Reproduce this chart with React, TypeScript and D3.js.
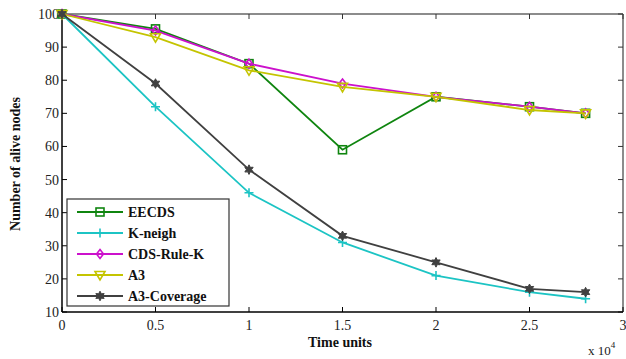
import React from "react";
import * as d3 from "d3";

const times = [0, 5000, 10000, 15000, 20000, 25000, 28000];
const eecds = [100, 95.5, 85, 59, 75, 72, 70];
const kneigh = [100, 72, 46, 31, 21, 16, 14];
const cdsRuleK = [100, 95, 85, 79, 75, 72, 70];
const a3 = [100, 93, 83, 78, 75, 71, 70];
const a3Coverage = [100, 79, 53, 33, 25, 17, 16];
const xTicks = [0, 5000, 10000, 15000, 20000, 25000, 30000];
const xTickLabels = ["0", "0.5", "1", "1.5", "2", "2.5", "3"];
const yTicks = [10, 20, 30, 40, 50, 60, 70, 80, 90, 100];

const seriesNames = ["EECDS", "K-neigh", "CDS-Rule-K", "A3", "A3-Coverage"];
const seriesValues = [eecds, kneigh, cdsRuleK, a3, a3Coverage];
const seriesColors = ["#0f850f", "#1cc4c4", "#cc11cc", "#c4c400", "#404040"];
const seriesMarkers = ["square", "plus", "diamond", "tri", "star"];

const W = 626, H = 359;
const L = 62, R = 623, T = 14, B = 312;

const starPath = (cx: number, cy: number) => {
  const pts = d3.range(12).map((k) => {
    const r = k % 2 === 0 ? 4.8 : 2.6;
    const a = (k * Math.PI) / 6 - Math.PI / 2;
    return [cx + r * Math.cos(a), cy + r * Math.sin(a)];
  });
  return "M" + pts.map((p) => p.join(",")).join("L") + "Z";
};

function Marker({ type, x, y, color }: { type: string; x: number; y: number; color: string }) {
  const sw = 1.6;
  if (type === "square") return <rect x={x - 4} y={y - 4} width={8} height={8} fill="none" stroke={color} strokeWidth={sw} />;
  if (type === "plus") return <path d={`M${x - 4.5},${y}H${x + 4.5}M${x},${y - 4.5}V${y + 4.5}`} stroke={color} strokeWidth={sw} />;
  if (type === "diamond") return <path d={`M${x},${y - 4.5}L${x + 3.5},${y}L${x},${y + 4.5}L${x - 3.5},${y}Z`} fill="none" stroke={color} strokeWidth={sw} />;
  if (type === "tri") return <path d={`M${x - 5},${y - 3.5}L${x + 5},${y - 3.5}L${x},${y + 5}Z`} fill="none" stroke={color} strokeWidth={sw} />;
  return <path d={starPath(x, y)} fill={color} stroke={color} strokeWidth={1} />;
}

export default function App() {
  const x = d3.scaleLinear().domain([0, 30000]).range([L, R]);
  const y = d3.scaleLinear().domain([10, 100]).range([B, T]);
  const line = d3.line<number>().x((_, i) => x(times[i])).y((d) => y(d));
  const font = "Liberation Serif, Times New Roman, serif";
  const legX = 67, legY = 199, legW = 162, legH = 107;
  return (
    <svg width={W} height={H} style={{ position: "absolute", left: 0, top: 0, background: "#fff", fontFamily: font }}>
      <rect x={0} y={0} width={W} height={H} fill="#fff" />
      <line x1={L} y1={T} x2={R} y2={T} stroke="#666" strokeWidth={1.5} />
      <line x1={R} y1={T} x2={R} y2={B} stroke="#666" strokeWidth={1.5} />
      {xTicks.map((t, i) => (
        <g key={"xt" + i}>
          <line x1={x(t)} x2={x(t)} y1={B} y2={B - 5} stroke="#000" />
          <line x1={x(t)} x2={x(t)} y1={T} y2={T + 5} stroke="#333" />
          <text x={x(t)} y={B + 18} textAnchor="middle" fontSize={14} fill="#222" style={{ fontFamily: font }}>{xTickLabels[i]}</text>
        </g>
      ))}
      {yTicks.map((t, i) => (
        <g key={"yt" + i}>
          <line x1={L} x2={L + 5} y1={y(t)} y2={y(t)} stroke="#000" />
          <line x1={R} x2={R - 5} y1={y(t)} y2={y(t)} stroke="#333" />
          <text x={L - 3} y={y(t) + 5} textAnchor="end" fontSize={14} fill="#222" style={{ fontFamily: font }}>{t}</text>
        </g>
      ))}
      <line x1={L} y1={T} x2={L} y2={B} stroke="#000" strokeWidth={1.5} />
      <line x1={L} y1={B} x2={R} y2={B} stroke="#000" strokeWidth={1.5} />
      {seriesValues.map((vals, si) => (
        <g key={"s" + si}>
          <path d={line(vals) as string} fill="none" stroke={seriesColors[si]} strokeWidth={1.8} />
          {vals.map((v, i) => (
            <Marker key={i} type={seriesMarkers[si]} x={x(times[i])} y={y(v)} color={seriesColors[si]} />
          ))}
        </g>
      ))}
      <rect x={legX} y={legY} width={legW} height={legH} fill="#fff" stroke="#333" strokeWidth={1.2} />
      {seriesNames.map((n, i) => {
        const ly = 212 + i * 21;
        return (
          <g key={"l" + i}>
            <line x1={77} x2={123} y1={ly} y2={ly} stroke={seriesColors[i]} strokeWidth={1.8} />
            <Marker type={seriesMarkers[i]} x={100} y={ly} color={seriesColors[i]} />
            <text x={128} y={ly + 5} fontSize={14} fontWeight="bold" fill="#111" style={{ fontFamily: font }}>{n}</text>
          </g>
        );
      })}
      <text x={340} y={347} textAnchor="middle" fontSize={14} fontWeight="bold" fill="#111" style={{ fontFamily: font }}>Time units</text>
      <text transform="translate(20,164) rotate(-90)" textAnchor="middle" fontSize={14} fontWeight="bold" fill="#111" style={{ fontFamily: font }}>Number of alive nodes</text>
      <text x={588} y={355} fontSize={13} fill="#222" style={{ fontFamily: font }}>x 10<tspan dy={-7} fontSize={9}>4</tspan></text>
    </svg>
  );
}
